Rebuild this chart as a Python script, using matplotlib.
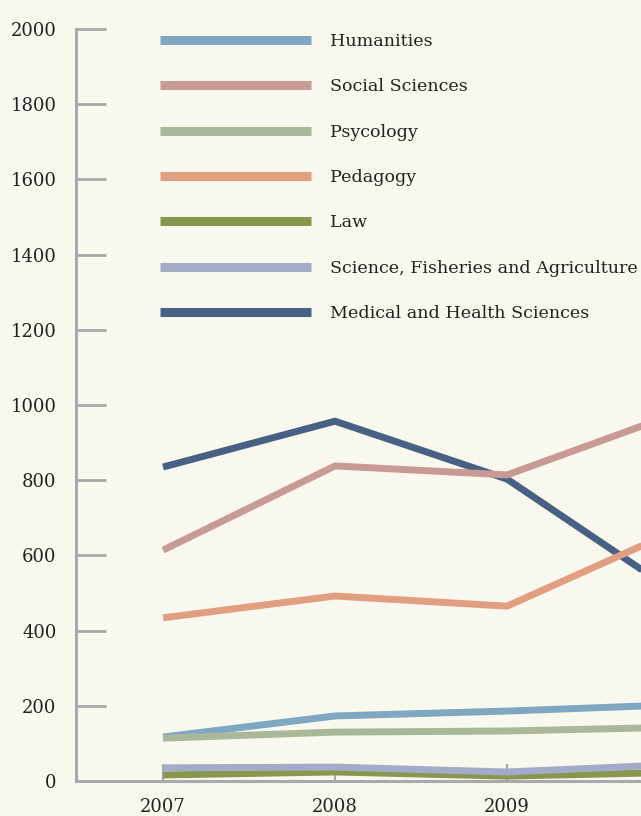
import matplotlib
matplotlib.use('Agg')
import matplotlib.pyplot as plt

plt.rcParams['font.family'] = ['DejaVu Serif']

years = [2007, 2008, 2009, 2010]
humanities = [117, 173, 186, 203]
social = [614, 838, 814, 980]
psycology = [114, 130, 133, 143]
pedagogy = [434, 492, 465, 670]
law = [16, 24, 13, 23]
science = [35, 37, 24, 44]
medical = [835, 957, 803, 495]

names = ['Humanities', 'Social Sciences', 'Psycology', 'Pedagogy', 'Law',
         'Science, Fisheries and Agriculture', 'Medical and Health Sciences']
colors = ['#7fa7c2', '#c79a94', '#a8b898', '#e19e80', '#87974e', '#a3abc8', '#466184']
series = [humanities, social, psycology, pedagogy, law, science, medical]

bg = '#f9f8ef'
grey = '#a9a9ab'

fig = plt.figure(figsize=(6.41, 8.16), dpi=100, facecolor=bg)
ax = fig.add_axes([76 / 641, 35 / 816, 1 - 76 / 641, 752 / 816])
ax.set_facecolor(bg)

handles = {}
# medical first so the others sit on top of it
for i in [6, 0, 1, 2, 3, 4, 5]:
    h, = ax.plot(years, series[i], color=colors[i], lw=5, solid_capstyle='butt',
                 label=names[i], zorder=3)
    handles[i] = h

ax.set_xlim(2006.494, 2009.779)
ax.set_ylim(0, 2000)
ax.set_yticks(range(0, 2001, 200))
ax.set_xticks([2007, 2008, 2009])

for s in ['top', 'right']:
    ax.spines[s].set_visible(False)
for s in ['left', 'bottom']:
    ax.spines[s].set_color(grey)
    ax.spines[s].set_linewidth(2.2)

ax.tick_params(axis='y', direction='in', length=21.5, width=2, color=grey,
               labelsize=13, pad=14, labelcolor='#222222')
ax.tick_params(axis='x', direction='in', length=12, width=1.5, color=grey,
               labelsize=13, pad=12, labelcolor='#222222')

leg = ax.legend([handles[i] for i in range(7)], names, loc='upper left',
                bbox_to_anchor=(160 / 641, 1 - 33 / 816), bbox_transform=fig.transFigure,
                frameon=False, fontsize=12.6, handlelength=8.6, handletextpad=1.1,
                labelspacing=1.62, borderpad=0, borderaxespad=0)
for t in leg.get_texts():
    t.set_color('#222222')
for ln in leg.get_lines():
    ln.set_linewidth(6.5)

fig.savefig('out.png', dpi=100, facecolor=bg)
